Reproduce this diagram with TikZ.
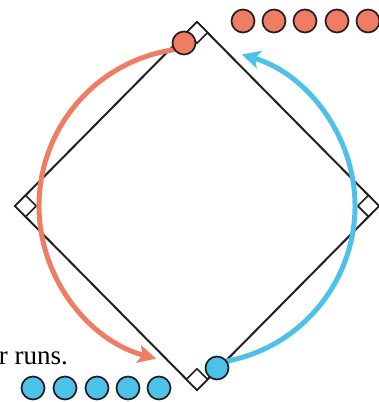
\documentclass[tikz,border=0pt]{standalone}
\usepackage{fontspec}
\setmainfont{Liberation Serif}
\usetikzlibrary{arrows.meta}
\definecolor{runorange}{HTML}{EE7D64}
\definecolor{runblue}{HTML}{4CC1E9}
\definecolor{ink}{HTML}{231F20}

\begin{document}
\begin{tikzpicture}[x=1pt, y=1pt,
    base/.style={draw=ink, line width=1.7pt, fill=white, minimum size=15pt, inner sep=0pt, rotate=45},
    runner/.style={circle, draw=ink, line width=1.7pt, minimum size=23pt, inner sep=0pt},
    runarc/.style={line width=5pt, -{Stealth[length=18pt, width=18pt, inset=4pt]}}]
        \useasboundingbox (0,0) rectangle (378,402);
        % field
        \coordinate (mid) at (197,196);
        \coordinate (ctop) at (197,380);
        \coordinate (cright) at (379,196);
        \coordinate (cbottom) at (197,12);
        \coordinate (cleft) at (15,196);
        \draw[ink, line width=2pt] (ctop) -- (cright) -- (cbottom) -- (cleft) -- cycle;
        \node[base] (basetop) at (197,369.4) {};
        \node[base] (baseright) at (368.4,196) {};
        \node[base] (basebottom) at (197,22.6) {};
        \node[base] (baseleft) at (25.6,196) {};
        % runs
        \path (mid) ++(98:158) coordinate (ostart);
        \path (mid) ++(-80:158) coordinate (bstart);
        \draw[runarc, runorange] (ostart) arc[start angle=98, end angle=255, radius=158];
        \draw[runarc, runblue] (bstart) arc[start angle=-80, end angle=73.5, radius=158];
        \node[runner, fill=runorange] (orun) at (184,359) {};
        \node[runner, fill=runblue] (brun) at (217,34) {};
        % tallies
        \foreach \i/\x in {1/243, 2/274, 3/305, 4/337, 5/368}
          \node[runner, fill=runorange] (odot\i) at (\x,381) {};
        \foreach \i/\x in {1/33, 2/65, 3/97, 4/128, 5/159}
          \node[runner, fill=runblue] (bdot\i) at (\x,14) {};
        \node[anchor=base east, inner sep=0pt, font=\fontsize{27}{31}\selectfont] (note) at (68,37) {r runs.};
      \end{tikzpicture}
\end{document}
